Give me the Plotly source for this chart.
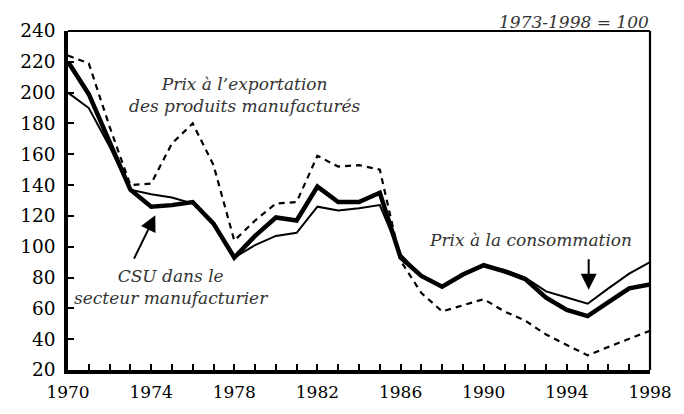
import plotly.graph_objects as go

years = list(range(1970, 1999))
csu = [220, 199, 168, 137, 126, 127, 129, 115, 93, 107, 119, 117, 139, 129, 129, 135,
       93, 81, 74, 82, 88, 84, 79, 67, 59, 55, 64, 73, 75.5]
cpi = [200, 190, 165, 137, 134, 132, 128, 115, 93, 101, 107, 109, 126, 123.5, 125, 127,
       95, 81, 74, 82, 88, 85, 80, 71, 67, 63, 73, 82.5, 90]
export = [224, 219, 178, 140, 141, 167, 180, 153, 104, 117, 128, 129, 159, 152, 153, 150,
          91, 70, 58, 62, 66, 58, 52, 43, 36, 29.5, 35, 40, 45.5]
x_ticks = [1970, 1974, 1978, 1982, 1986, 1990, 1994, 1998]
y_ticks = list(range(20, 241, 20))

FONT = "DejaVu Serif"
TXT = "#333333"

fig = go.Figure()
fig.add_trace(go.Scatter(x=years, y=export, mode="lines",
                         line=dict(color="black", width=2.2, dash="6px,5px"),
                         name="Prix à l'exportation"))
fig.add_trace(go.Scatter(x=years, y=cpi, mode="lines",
                         line=dict(color="black", width=2),
                         name="Prix à la consommation"))
fig.add_trace(go.Scatter(x=years, y=csu, mode="lines",
                         line=dict(color="black", width=4.5),
                         name="CSU"))

# page body has an 8px default margin, so the figure is sized to fit the window
fig.update_layout(
    width=676, height=406,
    margin=dict(l=52, r=24, t=17, b=44),
    paper_bgcolor="white", plot_bgcolor="white",
    showlegend=False,
    font=dict(family=FONT, color="black", size=17),
)
fig.update_xaxes(range=[1970, 1998], tickvals=x_ticks, ticks="inside", ticklen=6,
                 tickwidth=2, tickcolor="black", showgrid=False, zeroline=False,
                 showline=True, linewidth=3.5, linecolor="black",
                 ticklabelstandoff=4,
                 minor=dict(dtick=1, ticks="inside", ticklen=6, tickwidth=2,
                            tickcolor="black", showgrid=False),
                 tickfont=dict(family=FONT, size=17, color="black"))
fig.update_yaxes(range=[20, 240], tickvals=y_ticks, ticks="inside", ticklen=6,
                 tickwidth=2, tickcolor="black", showgrid=False, zeroline=False,
                 showline=True, linewidth=3.5, linecolor="black",
                 ticklabelstandoff=5,
                 tickfont=dict(family=FONT, size=18.5, color="black"))

# top & right frame
fig.add_shape(type="line", xref="paper", yref="paper", x0=0, x1=1, y0=1, y1=1,
              line=dict(color="black", width=2.2))
fig.add_shape(type="line", xref="paper", yref="paper", x0=1, x1=1, y0=0, y1=1,
              line=dict(color="black", width=2.2))

ita = dict(family=FONT, size=17, color=TXT)
fig.add_annotation(text="<i>1973-1998 = 100</i>", xref="paper", yref="paper",
                   x=1, y=1, xanchor="right", yanchor="bottom", showarrow=False,
                   font=ita, yshift=-2, borderpad=0)
fig.add_annotation(text="<i>Prix à l’exportation<br>des produits manufacturés</i>",
                   x=1970 + (242 - 60) / 600 * 28, y=240 - (90 - 25) / 345 * 220,
                   showarrow=False, font=ita, xanchor="center", yanchor="middle")
fig.add_annotation(text="<i>CSU dans le<br>secteur manufacturier</i>",
                   x=1970 + (166 - 60) / 600 * 28, y=240 - (286 - 25) / 345 * 220,
                   showarrow=False, font=ita, xanchor="center", yanchor="middle")
fig.add_annotation(text="<i>Prix à la consommation</i>",
                   x=1970 + (537 - 60) / 600 * 28, y=240 - (238 - 25) / 345 * 220,
                   showarrow=False, font=ita, xanchor="center", yanchor="middle")
# arrows
fig.add_annotation(text="", x=1974.2, y=120.5, ax=-22, ay=45, showarrow=True,
                   arrowhead=2, arrowsize=1.6, arrowwidth=2, arrowcolor="black")
fig.add_annotation(text="", x=1995.05, y=72, ax=0, ay=-32, showarrow=True,
                   arrowhead=2, arrowsize=1.6, arrowwidth=2, arrowcolor="black")

fig.write_html("out.html")
